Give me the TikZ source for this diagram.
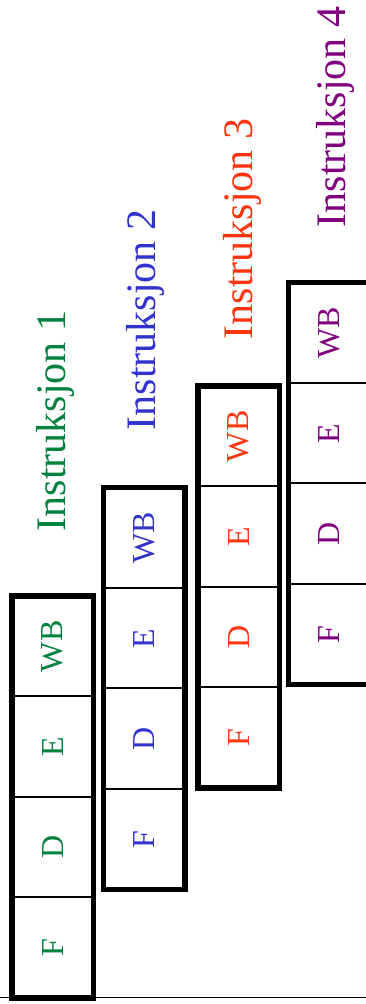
\documentclass[tikz,border=0pt]{standalone}
\usepackage{fontspec}
\setmainfont{Liberation Serif}
\definecolor{instrgreen}{RGB}{0,130,62}
\definecolor{instrblue}{RGB}{50,50,205}
\definecolor{instrred}{RGB}{255,52,16}
\definecolor{instrpurple}{RGB}{128,0,128}
\tikzset{
  frame/.style = {line width=5.5pt},
  divider/.style = {line width=2pt},
  cell/.style = {rotate=90, font=\fontsize{32}{32}\selectfont},
  instr/.style = {rotate=90, anchor=base, font=\fontsize{42}{42}\selectfont}
}
\begin{document}
\begin{tikzpicture}[x=1pt, y=1pt]
\useasboundingbox (0,0) rectangle (366,1004);
\draw[line width=1.5pt] (0,6.5) -- (366,6.5);
\begin{scope}[xshift = 12pt, yshift = 6pt]
\draw[divider] (0,100.5) -- (81.5,100.5);
\draw[divider] (0,201) -- (81.5,201);
\draw[divider] (0,301.5) -- (81.5,301.5);
\draw[frame] (0,0) rectangle (81.5,402);
\node[cell, instrgreen] (f1) at (40.75,50.25) {F};
\node[cell, instrgreen] (d1) at (40.75,150.75) {D};
\node[cell, instrgreen] (e1) at (40.75,251.25) {E};
\node[cell, instrgreen] (wb1) at (40.75,351.75) {WB};
\node[instr, instrgreen] (instr1) at (53,577) {Instruksjon 1};
\end{scope}
\begin{scope}[xshift = 103.5pt, yshift = 114.5pt]
\draw[divider] (0,100.5) -- (81.5,100.5);
\draw[divider] (0,201) -- (81.5,201);
\draw[divider] (0,301.5) -- (81.5,301.5);
\draw[frame] (0,0) rectangle (81.5,402);
\node[cell, instrblue] (f2) at (40.75,50.25) {F};
\node[cell, instrblue] (d2) at (40.75,150.75) {D};
\node[cell, instrblue] (e2) at (40.75,251.25) {E};
\node[cell, instrblue] (wb2) at (40.75,351.75) {WB};
\node[instr, instrblue] (instr2) at (51.5,569.5) {Instruksjon 2};
\end{scope}
\begin{scope}[xshift = 198pt, yshift = 216pt]
\draw[divider] (0,100.5) -- (81.5,100.5);
\draw[divider] (0,201) -- (81.5,201);
\draw[divider] (0,301.5) -- (81.5,301.5);
\draw[frame] (0,0) rectangle (81.5,402);
\node[cell, instrred] (f3) at (40.75,50.25) {F};
\node[cell, instrred] (d3) at (40.75,150.75) {D};
\node[cell, instrred] (e3) at (40.75,251.25) {E};
\node[cell, instrred] (wb3) at (40.75,351.75) {WB};
\node[instr, instrred] (instr3) at (54,559) {Instruksjon 3};
\end{scope}
\begin{scope}[xshift = 288.5pt, yshift = 319.5pt]
\draw[divider] (0,100.5) -- (81.5,100.5);
\draw[divider] (0,201) -- (81.5,201);
\draw[divider] (0,301.5) -- (81.5,301.5);
\draw[frame] (0,0) rectangle (81.5,402);
\node[cell, instrpurple] (f4) at (40.75,50.25) {F};
\node[cell, instrpurple] (d4) at (40.75,150.75) {D};
\node[cell, instrpurple] (e4) at (40.75,251.25) {E};
\node[cell, instrpurple] (wb4) at (40.75,351.75) {WB};
\node[instr, instrpurple] (instr4) at (56.5,567.5) {Instruksjon 4};
\end{scope}
\end{tikzpicture}
\end{document}
